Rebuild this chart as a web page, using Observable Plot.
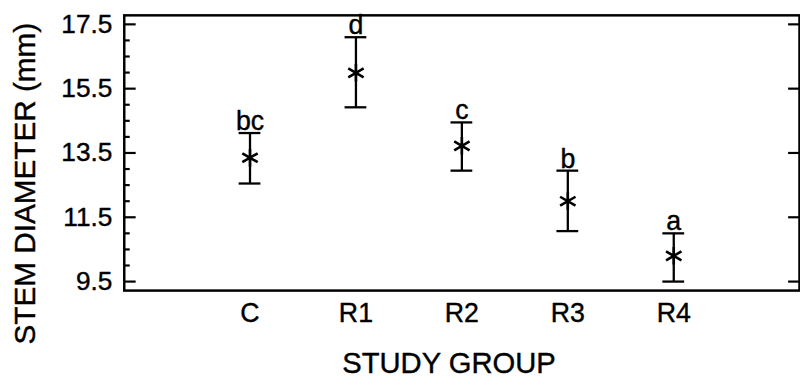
<!DOCTYPE html>
<html>
<head>
<meta charset="utf-8">
<script src="https://cdn.jsdelivr.net/npm/d3@7"></script>
<script src="https://cdn.jsdelivr.net/npm/@observablehq/plot@0.6"></script>
<style>
  html, body { margin: 0; padding: 0; background: #fff; overflow: hidden; }
  #chart { width: 800px; height: 387px; overflow: hidden; }
</style>
</head>
<body>
<div id="chart"></div>
<script>
const groups = ["C", "R1", "R2", "R3", "R4"];
const means = [13.35, 15.99, 13.72, 12.0, 10.3];
const upper = [14.12, 17.1, 14.45, 12.95, 11.0];
const lower = [12.55, 14.92, 12.95, 11.07, 9.5];
const letters = ["bc", "d", "c", "b", "a"];
const majorTicks = [9.5, 11.5, 13.5, 15.5, 17.5];
const minorTicks = [10, 10.5, 11, 12, 12.5, 13, 14, 14.5, 15, 16, 16.5, 17];
const yDomain = [9.22, 17.78];
const xTitle = "STUDY GROUP";
const yTitle = "STEM DIAMETER (mm)";

const data = groups.map((g, i) => ({group: g, mean: means[i], hi: upper[i], lo: lower[i], letter: letters[i]}));
const font = "'Liberation Sans', Arial, Helvetica, sans-serif";
const heavy = {stroke: "black", strokeWidth: 0.4, fill: "black"};

const chart = Plot.plot({
  width: 808,
  height: 387,
  marginLeft: 125,
  marginRight: 1,
  marginTop: 15,
  marginBottom: 94,
  x: {type: "band", domain: groups, paddingInner: 0.795, paddingOuter: 1.07, axis: null},
  y: {domain: yDomain, axis: null},
  style: {fontFamily: font, color: "black", background: "white", overflow: "visible"},
  marks: [
    Plot.frame({stroke: "black", strokeWidth: 2.5}),
    Plot.axisY(majorTicks, {anchor: "left", tickSize: -12, tickFormat: () => "", strokeWidth: 2.2, label: null}),
    Plot.axisY(minorTicks, {anchor: "left", tickSize: -6, tickFormat: () => "", strokeWidth: 2.2, label: null}),
    Plot.axisY(majorTicks, {anchor: "right", tickSize: -12, tickFormat: () => "", strokeWidth: 2.2, label: null}),
    Plot.text(majorTicks, {y: d => d, text: d3.format(".1f"), frameAnchor: "left", textAnchor: "end", lineAnchor: "middle", dx: -12, fontSize: 26.5, ...heavy}),
    Plot.text(groups, {x: d => d, text: d => d, frameAnchor: "bottom", textAnchor: "middle", lineAnchor: "top", dy: 13, fontSize: 27, ...heavy}),
    Plot.ruleX(data, {x: "group", y1: "lo", y2: "hi", stroke: "black", strokeWidth: 2.3}),
    Plot.tickY(data, {x: "group", y: "hi", stroke: "black", strokeWidth: 2.3}),
    Plot.tickY(data, {x: "group", y: "lo", stroke: "black", strokeWidth: 2.3}),
    Plot.dot(data, {x: "group", y: "mean", symbol: "asterisk", r: 8.5, stroke: "black", strokeWidth: 2.6}),
    Plot.text(data, {x: "group", y: "hi", text: "letter", lineAnchor: "bottom", dy: -3, fontSize: 27, ...heavy}),
    Plot.text([xTitle], {text: d => d, frameAnchor: "bottom", textAnchor: "middle", lineAnchor: "middle", dx: -13, dy: 74, fontSize: 29.5, ...heavy}),
    Plot.text([yTitle], {text: d => d, frameAnchor: "left", textAnchor: "middle", lineAnchor: "middle", rotate: -90, dx: -100, dy: 31, fontSize: 30, ...heavy})
  ]
});
document.getElementById("chart").appendChild(chart);
</script>
</body>
</html>
